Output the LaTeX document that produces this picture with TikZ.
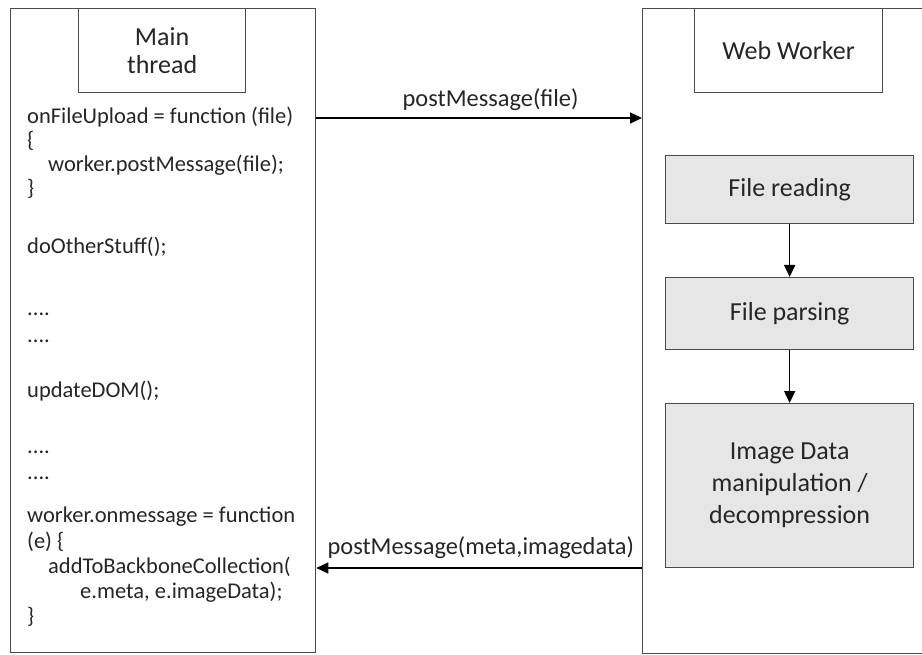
\documentclass[tikz,border=0pt]{standalone}
\usepackage{fontspec}
\setmainfont{Carlito}
\usetikzlibrary{arrows.meta}
\definecolor{edge}{HTML}{4A4A4A}
\definecolor{ink}{HTML}{262626}
\definecolor{stepfill}{HTML}{E6E6E6}
\begin{document}
\begin{tikzpicture}[x=1pt,y=-1pt,
  lane/.style={draw=edge,line width=1.3pt,rectangle,anchor=north west,inner sep=0pt},
  titlebox/.style={draw=edge,line width=1.3pt,rectangle,anchor=north west,inner sep=0pt,
    align=center,text=ink,font=\fontsize{26}{28}\selectfont},
  stepbox/.style={draw=edge,fill=stepfill,line width=1.3pt,rectangle,anchor=north west,
    inner sep=0pt,align=center,text=ink,font=\fontsize{26}{32}\selectfont},
  code/.style={anchor=base west,inner sep=0pt,text=ink,font=\fontsize{22.5}{25}\selectfont},
  msg/.style={anchor=base,inner sep=0pt,text=ink,font=\fontsize{24.4}{28}\selectfont},
  flow/.style={line width=1.6pt,-{Triangle[length=12pt,width=11pt]}},
]
\useasboundingbox (0,0) rectangle (922,655);
\fill[white] (0,0) rectangle (922,655);

% swim lanes
\node[lane,minimum width=305pt,minimum height=644pt] (mainlane) at (10,8) {};
\node[lane,minimum width=290pt,minimum height=645pt] (worklane) at (642,8) {};

% lane titles
\node[titlebox,minimum width=167pt,minimum height=84pt] (maintitle) at (78,8) {Main\\thread};
\node[titlebox,minimum width=188pt,minimum height=84pt] (worktitle) at (694,8) {Web Worker};

% worker steps
\node[stepbox,minimum width=248pt,minimum height=68pt] (reading) at (665,155) {File reading};
\node[stepbox,minimum width=248pt,minimum height=72pt] (parsing) at (665,277) {File parsing};
\node[stepbox,minimum width=248pt,minimum height=164pt] (imaging) at (665,403)
  {Image Data\\manipulation /\\decompression};

\draw[flow] (reading.south) -- (parsing.north);
\draw[flow] (parsing.south) -- (imaging.north);

% main thread code
\node[code] (c1) at (27,124) {onFileUpload = function (file)};
\node[code] (c2) at (27,148) {\{};
\node[code] (c3) at (48,172) {worker.postMessage(file);};
\node[code] (c4) at (27,196) {\}};
\node[code] (c5) at (27,254) {doOtherStuff();};
\node[code] (c6) at (27,316) {....};
\node[code] (c7) at (27,343) {....};
\node[code] (c8) at (27,397) {updateDOM();};
\node[code] (c9) at (27,453) {....};
\node[code] (c10) at (27,479) {....};
\node[code] (c11) at (27,522) {worker.onmessage = function};
\node[code] (c12) at (27,548) {(e) \{};
\node[code] (c13) at (48,573) {addToBackboneCollection(};
\node[code] (c14) at (80,598) {e.meta, e.imageData);};
\node[code] (c15) at (27,623) {\}};

% messages between the threads
\coordinate (sendrow) at (0,118);
\coordinate (replyrow) at (0,568);
\draw[flow] (mainlane.east |- sendrow) -- (worklane.west |- sendrow)
  node[msg,pos=0.535,yshift=11pt] (sendlabel) {postMessage(file)};
\draw[flow] (worklane.west |- replyrow) -- (mainlane.east |- replyrow)
  node[msg,pos=0.495,yshift=14pt] (replylabel) {postMessage(meta,imagedata)};
\end{tikzpicture}
\end{document}
